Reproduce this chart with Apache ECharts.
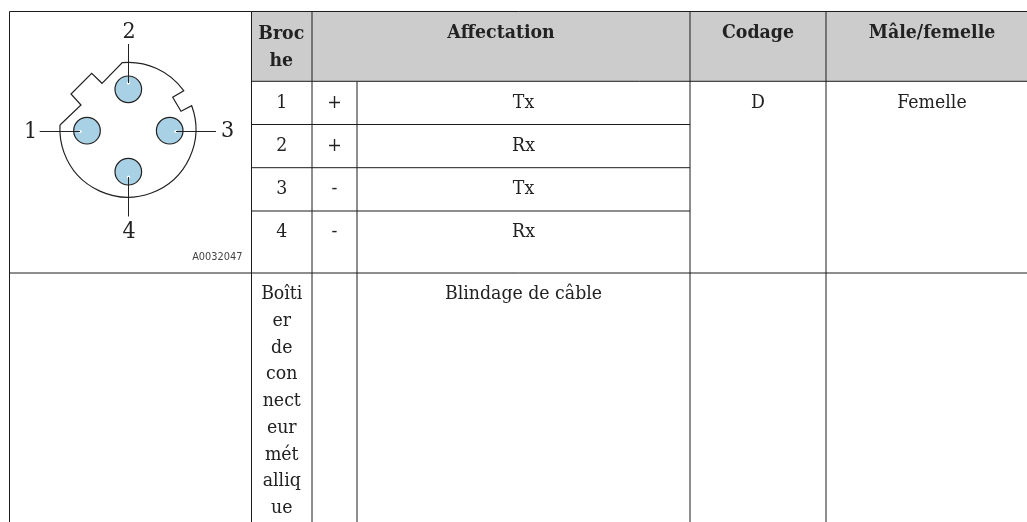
<!DOCTYPE html>
<html>
<head>
<meta charset="utf-8">
<style>
  html, body { margin: 0; padding: 0; background: #fff; }
  #chart { width: 1027px; height: 522px; }
</style>
<script src="https://cdn.jsdelivr.net/npm/echarts@6/dist/echarts.min.js"></script>
</head>
<body>
<div id="chart"></div>
<script>
// table content
const headers = ['Broc\nhe', 'Affectation', 'Codage', 'Mâle/femelle'];
const pins = ['1', '2', '3', '4'];
const polarity = ['+', '+', '-', '-'];
const signals = ['Tx', 'Rx', 'Tx', 'Rx'];
const coding = 'D';
const gender = 'Femelle';
const housingLines = ['Boîti', 'er', 'de', 'con', 'nect', 'eur', 'mét', 'alliq', 'ue'];
const shield = 'Blindage de câble';
const figureCode = 'A0032047';
const pinLabels = ['1', '2', '3', '4'];

// layout, in page pixels. the last column runs off the right edge of the page
const colX = [9.5, 251.5, 312, 357, 690, 826, 1038];
const rowY = [11.5, 81.3, 124.5, 167.7, 211, 273, 522];
const FONT = '"DejaVu Serif Condensed", "DejaVu Serif", serif';
const INK = '#222';

// connector sketch
const SHELL_R = 68, PIN_R = 13.3;
const pinCentres = [[87, 130.7], [128.3, 89.3], [169.7, 130.7], [128.3, 171.7]];
const leaders = [
  [[39.7, 131.5], [80, 131.5]],
  [[128.5, 44], [128.5, 83]],
  [[176, 131.5], [216, 131.5]],
  [[128.5, 177], [128.5, 216.5]]
];
const leaderTips = [[80, 131.5], [128.5, 83], [176, 131.5], [128.5, 177]];
const pinLabelPos = [[30.5, 132.5], [129, 32.5], [227.5, 131.5], [129, 232.5]];
const shellTop = [[60, 125], [81, 105], [71, 94], [91.7, 73.3], [102, 83.3], [122.3, 62.7]];
const shellRight = [[183.7, 90.7], [172.7, 97.3], [181, 111.3], [191.7, 105.7]];

const rules = [];
function hRule(y, x0, x1) { rules.push([x0, y, x1, y]); }
function vRule(x, y0, y1) { rules.push([x, y0, x, y1]); }
hRule(rowY[0], colX[0], colX[6]);
hRule(rowY[1], colX[1], colX[6]);
hRule(rowY[2], colX[1], colX[4]);
hRule(rowY[3], colX[1], colX[4]);
hRule(rowY[4], colX[1], colX[4]);
hRule(rowY[5], colX[0], colX[6]);
vRule(colX[0], rowY[0], rowY[6]);
vRule(colX[1], rowY[0], rowY[6]);
vRule(colX[2], rowY[0], rowY[6]);
vRule(colX[3], rowY[1], rowY[6]);
vRule(colX[4], rowY[0], rowY[6]);
vRule(colX[5], rowY[0], rowY[6]);

const labels = [];
function mid(a, b) { return (colX[a] + colX[b]) / 2; }
function addText(text, x, y, extra) { labels.push(Object.assign({ text, x, y }, extra)); }

addText(headers[0], mid(1, 2) - 0.5, 47.5, { bold: true, lh: 27.5 });
addText(headers[1], mid(2, 4), 33, { bold: true });
addText(headers[2], mid(4, 5), 33, { bold: true });
addText(headers[3], mid(5, 6), 33, { bold: true });
pins.forEach((p, i) => {
  const y = [103, 146, 189, 232][i];
  addText(p, mid(1, 2), y);
  addText(polarity[i], mid(2, 3), y);
  addText(signals[i], mid(3, 4), y);
});
addText(coding, mid(4, 5), 103);
addText(gender, mid(5, 6), 103);
housingLines.forEach((t, i) => addText(t, mid(1, 2), 294 + i * 26.75));
addText(shield, mid(3, 4), 294);

const chart = echarts.init(document.getElementById('chart'), null, { renderer: 'canvas' });

function shellPath(api) {
  const pt = p => api.coord(p).join(' ');
  let d = 'M ' + pt(shellTop[0]);
  shellTop.slice(1).forEach(p => { d += ' L ' + pt(p); });
  d += ` A ${SHELL_R} ${SHELL_R} 0 0 1 ` + pt(shellRight[0]);
  shellRight.slice(1).forEach(p => { d += ' L ' + pt(p); });
  d += ` A ${SHELL_R} ${SHELL_R} 0 1 1 ` + pt(shellTop[0]);
  return d;
}

chart.setOption({
  animation: false,
  grid: { left: 0, right: 0, top: 0, bottom: 0 },
  xAxis: { type: 'value', min: 0, max: 1027, show: false },
  yAxis: { type: 'value', min: 0, max: 522, inverse: true, show: false },
  series: [
    {
      // header band
      type: 'custom', silent: true, z: 1,
      data: [[colX[1], rowY[0], colX[6], rowY[1]]],
      renderItem: (p, api) => {
        const a = api.coord([api.value(0), api.value(1)]);
        const b = api.coord([api.value(2), api.value(3)]);
        return { type: 'rect', shape: { x: a[0], y: a[1], width: b[0] - a[0], height: b[1] - a[1] }, style: { fill: '#cccccc' } };
      }
    },
    {
      // table rules
      type: 'custom', silent: true, z: 2,
      data: rules,
      renderItem: (p, api) => {
        const a = api.coord([api.value(0), api.value(1)]);
        const b = api.coord([api.value(2), api.value(3)]);
        return { type: 'line', shape: { x1: a[0], y1: a[1], x2: b[0], y2: b[1] }, style: { stroke: '#1c1c1c', lineWidth: 1 } };
      }
    },
    {
      // connector sketch
      type: 'custom', silent: true, z: 3,
      data: [0],
      renderItem: (p, api) => ({
        type: 'group',
        children: [
          { type: 'path', shape: { pathData: shellPath(api) }, style: { fill: '#fff', stroke: '#222', lineWidth: 1.2 } }
        ].concat(pinCentres.map(c => {
          const q = api.coord(c);
          return { type: 'circle', shape: { cx: q[0], cy: q[1], r: PIN_R }, style: { fill: '#a9d1e5', stroke: '#222', lineWidth: 1.2 } };
        })).concat(leaderTips.map(c => {
          const q = api.coord(c);
          return { type: 'circle', shape: { cx: q[0], cy: q[1], r: 1.6 }, style: { fill: '#fff' } };
        })).concat(leaders.map(l => {
          const a = api.coord(l[0]), b = api.coord(l[1]);
          return { type: 'line', shape: { x1: a[0], y1: a[1], x2: b[0], y2: b[1] }, style: { stroke: '#222', lineWidth: 1 } };
        })).concat(pinLabels.map((t, i) => {
          const q = api.coord(pinLabelPos[i]);
          return { type: 'text', style: { text: t, x: q[0], y: q[1], align: 'center', verticalAlign: 'middle', font: '23px ' + FONT, fill: INK } };
        })).concat([{
          type: 'text',
          style: { text: figureCode, x: api.coord([242.5, 0])[0], y: api.coord([0, 257])[1], align: 'right', verticalAlign: 'middle', font: '9.8px "DejaVu Sans"', fill: '#444' }
        }])
      })
    },
    {
      // table text
      type: 'custom', silent: true, z: 4,
      data: labels.map((l, i) => [l.x, l.y, i]),
      renderItem: (p, api) => {
        const l = labels[api.value(2)];
        const q = api.coord([api.value(0), api.value(1)]);
        return {
          type: 'text',
          style: {
            text: l.text, x: q[0], y: q[1], align: 'center', verticalAlign: 'middle',
            font: (l.bold ? 'bold 19.3px ' : '19.3px ') + FONT, lineHeight: l.lh || 20, fill: INK
          }
        };
      }
    }
  ]
});
</script>
</body>
</html>
